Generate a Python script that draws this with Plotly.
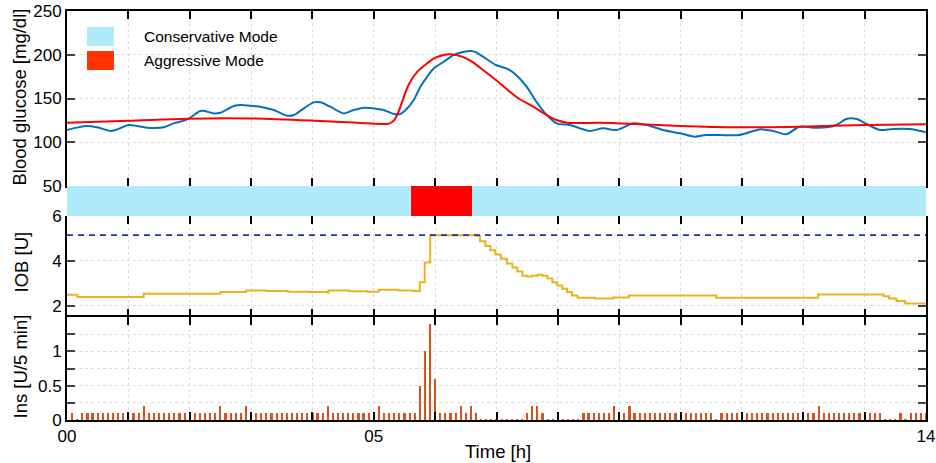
import plotly.graph_objects as go

# ---------------- data ----------------
# CGM blood glucose (blue)
bg_time = [0.00, 0.16, 0.33, 0.49, 0.71, 0.79, 1.01, 1.14, 1.30, 1.58, 1.74, 1.96, 2.17, 2.22,
           2.39, 2.50, 2.72, 2.83, 3.04, 3.15, 3.37, 3.59, 3.70, 3.86, 4.02, 4.13, 4.29, 4.51,
           4.67, 4.84, 5.00, 5.16, 5.33, 5.43, 5.52, 5.65, 5.76, 5.87, 5.98, 6.14, 6.30, 6.47,
           6.58, 6.66, 6.78, 6.99, 7.16, 7.32, 7.49, 7.65, 7.82, 7.98, 8.20, 8.36, 8.52, 8.74,
           8.96, 9.23, 9.45, 9.72, 9.99, 10.23, 10.42, 10.96, 11.29, 11.51, 11.72, 11.94, 12.16,
           12.38, 12.54, 12.70, 12.87, 13.03, 13.25, 13.46, 13.73, 14.00]
bg_value = [114.0, 116.7, 118.6, 117.1, 112.9, 114.0, 119.7, 118.6, 116.7, 117.1, 121.6, 126.2,
            135.7, 136.1, 133.0, 133.8, 141.4, 142.5, 141.4, 140.7, 136.8, 130.4, 131.1, 138.7,
            145.6, 145.6, 140.7, 133.0, 136.8, 139.5, 138.7, 136.8, 132.3, 132.3, 136.8, 148.3,
            163.5, 175.0, 184.5, 192.0, 199.7, 203.5, 204.3, 203.0, 197.8, 188.3, 184.5, 176.9,
            163.5, 146.3, 131.1, 121.6, 119.7, 115.9, 112.9, 115.9, 114.0, 121.6, 119.7, 114.0,
            110.2, 106.4, 108.3, 108.3, 114.7, 112.9, 109.1, 117.8, 116.7, 117.0, 119.7, 126.6,
            126.6, 120.9, 114.0, 115.1, 115.1, 111.3]

# model prediction (red)
pred_time = [0.00, 1.00, 1.96, 3.00, 4.04, 5.13, 5.24, 5.33, 5.41, 5.48, 5.57, 5.71, 5.87, 5.98,
             6.14, 6.25, 6.44, 6.58, 6.78, 6.99, 7.32, 7.60, 7.82, 7.98, 8.15, 8.69, 9.23, 9.99,
             10.96, 11.94, 13.03, 14.00]
pred_value = [122.4, 124.5, 127.0, 127.2, 124.6, 120.9, 121.0, 125.0, 136.0, 150.0, 166.0, 180.7,
              190.2, 195.9, 199.7, 200.5, 197.8, 192.9, 182.6, 171.1, 152.0, 140.7, 131.1, 125.4,
              122.4, 122.2, 120.9, 118.6, 117.1, 117.8, 119.7, 120.5]

# controller mode segments
mode_start = [0.0, 5.6, 6.6]
mode_end = [5.6, 6.6, 14.0]
mode_name = ["Conservative Mode", "Aggressive Mode", "Conservative Mode"]

# insulin on board (step)
iob_time = [0.00, 0.17, 1.25, 2.50, 2.92, 3.25, 3.60, 3.95, 4.25, 4.26, 4.60, 4.90, 5.08, 5.40,
            5.65, 5.75, 5.83, 5.92, 6.66, 6.73, 6.82, 6.90, 6.98, 7.07, 7.17, 7.26, 7.34, 7.42,
            7.50, 7.58, 7.67, 7.75, 7.83, 7.91, 7.99, 8.07, 8.15, 8.23, 8.32, 8.60, 8.90, 9.16,
            10.58, 12.24, 13.31, 13.40, 13.52, 13.66, 14.00]
iob_value = [2.49, 2.39, 2.54, 2.61, 2.68, 2.66, 2.63, 2.61, 2.58, 2.68, 2.65, 2.62, 2.71, 2.68,
             2.66, 3.05, 3.93, 5.14, 5.12, 4.88, 4.66, 4.47, 4.29, 4.10, 3.88, 3.71, 3.53, 3.34,
             3.30, 3.34, 3.38, 3.34, 3.22, 3.05, 2.90, 2.76, 2.61, 2.46, 2.36, 2.32, 2.37, 2.46,
             2.36, 2.50, 2.42, 2.32, 2.21, 2.10, 2.10]
iob_max = 5.15

# insulin delivered per 5 min (one row per hour, 12 values)
ins_value = [
    0.1, 0.01, 0.1, 0.1, 0.1, 0.1, 0.1, 0.1, 0.1, 0.1, 0.1, 0.1,
    0.1, 0.1, 0.2, 0.1, 0.1, 0.1, 0.1, 0.1, 0.1, 0.1, 0.1, 0.1,
    0.1, 0.1, 0.1, 0.1, 0.1, 0.2, 0.1, 0.1, 0.1, 0.1, 0.2, 0.1,
    0.1, 0.1, 0.1, 0.1, 0.1, 0.1, 0.1, 0.1, 0.1, 0.1, 0.1, 0.1,
    0.1, 0.1, 0.2, 0.1, 0.1, 0.1, 0.1, 0.1, 0.1, 0.1, 0.1, 0.1,
    0.2, 0.1, 0.1, 0.1, 0.1, 0.1, 0.1, 0.1, 0.5, 1.0, 1.4, 0.6,
    0.1, 0.1, 0.1, 0.1, 0.2, 0.1, 0.2, 0.1, 0.01, 0.01, 0.01, 0.01,
    0.01, 0.01, 0.01, 0.01, 0.01, 0.1, 0.2, 0.2, 0.1, 0.01, 0.01, 0.01,
    0.01, 0.01, 0.01, 0.01, 0.1, 0.1, 0.1, 0.1, 0.1, 0.1, 0.2, 0.1,
    0.1, 0.2, 0.1, 0.1, 0.1, 0.1, 0.1, 0.1, 0.1, 0.1, 0.1, 0.1,
    0.1, 0.1, 0.1, 0.1, 0.1, 0.1, 0.01, 0.1, 0.1, 0.1, 0.1, 0.1,
    0.1, 0.1, 0.1, 0.1, 0.1, 0.1, 0.1, 0.1, 0.1, 0.1, 0.1, 0.1,
    0.1, 0.1, 0.2, 0.1, 0.1, 0.1, 0.1, 0.1, 0.1, 0.1, 0.1, 0.1,
    0.1, 0.1, 0.1, 0.01, 0.01, 0.01, 0.1, 0.01, 0.1, 0.1, 0.1, 0.1,
]
ins_time = [(i + 1) * 5 / 60 for i in range(len(ins_value))]  # 5-min sample grid, hours

hour_ticks = list(range(0, 15))
hour_labels = ["00" if h == 0 else ("05" if h == 5 else ("14" if h == 14 else "")) for h in hour_ticks]

# ---------------- style ----------------
FONT = "Liberation Sans, Arial, sans-serif"
W, H = 936, 463
ML, MR, MT, MB = 67, 10, 11, 43
PH = H - MT - MB
PW = W - ML - MR


def py(p):  # pixel y -> paper
    return (H - MB - p) / PH


def px(p):  # pixel x -> paper
    return (p - ML) / PW


mode_color = {"Conservative Mode": "#aeeafa", "Aggressive Mode": "#ff0000"}
legend_color = {"Conservative Mode": "#aeeafa", "Aggressive Mode": "#ff3300"}

fig = go.Figure()

# glucose
fig.add_trace(go.Scatter(x=bg_time, y=bg_value, mode="lines", line=dict(color="#0072bd", width=2, shape="spline", smoothing=0.8),
                         xaxis="x", yaxis="y", showlegend=False))
fig.add_trace(go.Scatter(x=pred_time, y=pred_value, mode="lines", line=dict(color="#ff0000", width=2, shape="spline", smoothing=0.8),
                         xaxis="x", yaxis="y", showlegend=False))

# mode strip
fig.add_trace(go.Bar(y=[0.5] * len(mode_start), x=[e - s for s, e in zip(mode_start, mode_end)], base=mode_start,
                     orientation="h", width=1, marker=dict(color=[mode_color[m] for m in mode_name], line=dict(width=0)),
                     xaxis="x2", yaxis="y2", showlegend=False))

# IOB
fig.add_trace(go.Scatter(x=iob_time, y=iob_value, mode="lines", line=dict(color="#edb120", width=2, shape="hv"),
                         xaxis="x3", yaxis="y3", showlegend=False))
fig.add_trace(go.Scatter(x=[0, 14], y=[iob_max, iob_max], mode="lines", line=dict(color="#1f3596", width=1.6, dash="6px,5px"),
                         xaxis="x3", yaxis="y3", showlegend=False))

# insulin
fig.add_trace(go.Bar(x=ins_time, y=ins_value, width=0.035, marker=dict(color="#d95319", line=dict(width=0)),
                     xaxis="x4", yaxis="y4", showlegend=False))

d_glu = [py(186), 1.0]
d_strip = [py(216), py(186)]
d_iob = [py(317), py(216)]
d_ins = [0.0, py(317)]

grid = dict(showgrid=True, gridcolor="#dcdcdc", griddash="dot", gridwidth=1)
common_x = dict(range=[0, 14], tickvals=hour_ticks, ticks="inside", ticklen=8, tickwidth=1.5, tickcolor="black",
                zeroline=False, automargin=False, **grid)
tickfont = dict(family=FONT, size=17, color="black")

fig.update_layout(
    width=W, height=H, margin=dict(l=ML, r=MR, t=MT, b=MB, autoexpand=False),
    paper_bgcolor="white", plot_bgcolor="white", bargap=0, barmode="overlay",
    font=dict(family=FONT, color="black"),
    xaxis=dict(domain=[0, 1], anchor="y", showticklabels=False, showline=True, linecolor="black", linewidth=2,
               mirror="ticks", **common_x),
    yaxis=dict(domain=d_glu, anchor="x", range=[50, 250], tickvals=[50, 100, 150, 200, 250], ticks="inside",
               ticklen=8, tickwidth=1.5, showline=True, linecolor="black", linewidth=2, mirror="ticks",
               zeroline=False, automargin=False, tickfont=tickfont, **grid),
    xaxis2=dict(domain=[0, 1], anchor="y2", range=[0, 14], visible=False, automargin=False),
    yaxis2=dict(domain=d_strip, anchor="x2", range=[0, 1], visible=False, automargin=False),
    xaxis3=dict(domain=[0, 1], anchor="y3", showticklabels=False, showline=True, linecolor="rgba(0,0,0,0)",
                linewidth=2, mirror="ticks", **common_x),
    yaxis3=dict(domain=d_iob, anchor="x3", range=[1.5, 6], tickvals=[2, 4, 6], ticks="inside", ticklen=8,
                tickwidth=1.5, showline=True, linecolor="black", linewidth=2, mirror="ticks", zeroline=False,
                automargin=False, tickfont=tickfont, **grid),
    xaxis4=dict(domain=[0, 1], anchor="y4", ticktext=hour_labels, showline=True, linecolor="black", linewidth=2,
                mirror="ticks", tickfont=tickfont, **common_x),
    yaxis4=dict(domain=d_ins, anchor="x4", range=[0, 1.5], tickvals=[0, 0.25, 0.5, 0.75, 1, 1.25],
                ticktext=["0", "", "0.5", "", "1", ""], ticks="inside", ticklen=8, tickwidth=1.5, showline=True,
                linecolor="black", linewidth=2, mirror="ticks", zeroline=False, automargin=False,
                tickfont=tickfont, **grid),
)

# custom legend
shapes = []
annotations = []
leg_rows = [("Conservative Mode", 27, 46), ("Aggressive Mode", 51, 70)]
for name, top, bot in leg_rows:
    shapes.append(dict(type="rect", xref="paper", yref="paper", x0=px(87), x1=px(114), y0=py(bot), y1=py(top),
                       fillcolor=legend_color[name], line=dict(width=0)))
    annotations.append(dict(xref="paper", yref="paper", x=px(142), y=py((top + bot) / 2), text=name,
                            showarrow=False, xanchor="left", yanchor="middle",
                            font=dict(family=FONT, size=15.5, color="black")))

# axis titles
title_font = dict(family=FONT, size=18.5, color="black")
for text, cx, cy in [("Blood glucose [mg/dl]", 19.5, 97), ("IOB [U]", 20.5, 262), ("Ins [U/5 min]", 19.5, 367)]:
    annotations.append(dict(xref="paper", yref="paper", x=px(cx), y=py(cy), text=text, textangle=-90,
                            showarrow=False, xanchor="center", yanchor="middle", font=title_font))
annotations.append(dict(xref="paper", yref="paper", x=px(498), y=py(452), text="Time [h]", showarrow=False,
                        xanchor="center", yanchor="middle", font=title_font))

fig.update_layout(shapes=shapes, annotations=annotations)

fig.write_html("out.html", config={"displayModeBar": False},
               post_script="document.body.style.margin='0';document.body.style.padding='0';document.body.style.overflow='hidden';")
